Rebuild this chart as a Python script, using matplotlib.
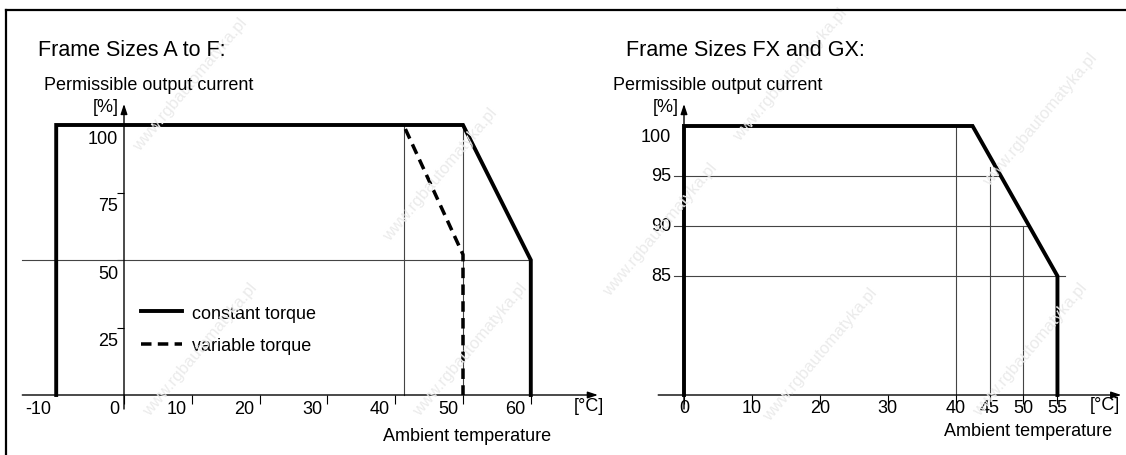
import matplotlib
matplotlib.use('Agg')
import matplotlib.pyplot as plt
from matplotlib.lines import Line2D
from matplotlib.transforms import offset_copy

plt.rcParams['font.family'] = ['Liberation Sans', 'DejaVu Sans']

W, H, DPI = 1126, 456, 100

# ---- Frame sizes A to F ----
left_title = 'Frame Sizes A to F:'
left_const_t = [-10, -10, 50, 60, 60]
left_const_p = [0, 100, 100, 50, 0]
left_var_t = [41.5, 50, 50]
left_var_p = [98.5, 52, 0]
left_vlines_t = [41.3, 50]
left_hline_p = 50
left_xticks = [0, 10, 20, 30, 40, 50, 60]
left_xlabels_pos = [-10, 0, 10, 20, 30, 40, 50, 60]
left_xlabels = ['-10', '0', '10', '20', '30', '40', '50', '60']
left_yticks = [25, 50, 75, 100]
left_ylabels = ['25', '50', '75', '100']

# ---- Frame sizes FX and GX ----
right_title = 'Frame Sizes FX and GX:'
right_base = 73.1   # level of the temperature axis
right_const_t = [0, 0, 42.5, 55, 55]
right_const_p = [right_base, 100, 100, 85, right_base]
right_vlines_t = [40, 45, 50]
right_vlines_top = [99.9, 95.9, 90]
right_hlines_p = [95, 90, 85]
right_hlines_end = [46.7, 50.8, 56.1]
right_xticks = [0, 10, 20, 30, 40, 45, 50, 55]
right_xlabels = ['0', '10', '20', '30', '40', '45', '50', '55']
right_ylabels_pos = [100, 95, 90, 85]
right_ylabels = ['100', '95', '90', '85']
right_ylabels_dy = [-10, 0, 0, 0]

THICK = 2.8
THIN = 0.8
GRAY = '#444444'
FS = 13


def place_axes(fig, xlim, ylim, x_ref, px_ref, kx, y_ref, py_ref, ky):
    # put an axes so that data (x_ref, y_ref) lands on pixel (px_ref, py_ref)
    x_left = px_ref + (xlim[0] - x_ref) * kx
    x_right = px_ref + (xlim[1] - x_ref) * kx
    y_bot = py_ref + (y_ref - ylim[0]) * ky
    y_top = py_ref - (ylim[1] - y_ref) * ky
    ax = fig.add_axes([x_left / W, 1 - y_bot / H, (x_right - x_left) / W, (y_bot - y_top) / H])
    ax.set_xlim(*xlim)
    ax.set_ylim(*ylim)
    ax.patch.set_alpha(0)
    for s in ax.spines.values():
        s.set_visible(False)
    return ax


def pix(ax, fig, dx=0, dy=0):
    return offset_copy(ax.transData, fig=fig, x=dx, y=dy, units='dots')


def arrow(ax, start, end):
    ax.annotate('', xy=end, xytext=start,
                arrowprops=dict(arrowstyle='-|>,head_length=0.6,head_width=0.2', lw=1.0, color='k',
                                shrinkA=0, shrinkB=0))


fig = plt.figure(figsize=(W / DPI, H / DPI), dpi=DPI)

# faint watermark
wm_xy = [(190, 85), (440, 175), (200, 350), (470, 350), (790, 75),
         (1040, 120), (820, 355), (1030, 350), (660, 230)]
for x, y in wm_xy:
    fig.text(x / W, 1 - y / H, 'www.rgbautomatyka.pl', rotation=50, ha='center', va='center',
             fontsize=12, color='#ebebeb', zorder=0)

# page frame
fig.add_artist(Line2D([6 / W, 1], [1 - 11 / H] * 2, color='k', lw=1.6))
fig.add_artist(Line2D([6 / W] * 2, [0, 1 - 11 / H], color='k', lw=1.6))

# ================= left chart =================
axL = place_axes(fig, (-15.5, 70.5), (-6, 110), 0, 124, 6.78, 0, 396, 2.7)
axL.spines['bottom'].set_position(('data', 0))
axL.spines['left'].set_position(('data', 0))
axL.set_xticks(left_xticks)
axL.set_yticks(left_yticks)
axL.tick_params(axis='x', direction='out', length=6.5, width=0.8, labelbottom=False)
axL.tick_params(axis='y', direction='out', length=5, width=0.8, labelleft=False)

axL.plot([-15, 60], [left_hline_p] * 2, color=GRAY, lw=THIN)
for t in left_vlines_t:
    axL.plot([t, t], [0, 100], color=GRAY, lw=THIN)
arrow(axL, (-15, 0), (69.9, 0))
arrow(axL, (0, -5.2), (0, 107.8))
lc, = axL.plot(left_const_t, left_const_p, color='k', lw=THICK, solid_joinstyle='miter',
               label='constant torque', clip_on=False)
lv, = axL.plot(left_var_t, left_var_p, color='k', lw=THICK * 0.9, dashes=(3, 1.8),
               label='variable torque', clip_on=False)
axL.legend(handles=[lc, lv], loc='upper left', bbox_to_anchor=(2.5, 33.5), bbox_transform=axL.transData,
           frameon=False, fontsize=FS, handlelength=2.3, handletextpad=0.5, labelspacing=0.85,
           borderpad=0, borderaxespad=0)

for pos, lab in zip(left_xlabels_pos, left_xlabels):
    axL.text(pos, 0, lab, transform=pix(axL, fig, -5, -5), ha='right', va='top', fontsize=FS)
for pos, lab in zip(left_yticks, left_ylabels):
    axL.text(0, pos, lab, transform=pix(axL, fig, -6, -5), ha='right', va='top', fontsize=FS)
axL.text(68.6, 0, '[°C]', transform=pix(axL, fig, 0, -2), ha='center', va='top', fontsize=FS)
axL.text(63, 0, 'Ambient temperature', transform=pix(axL, fig, 0, -41), ha='right', va='center', fontsize=FS)
axL.text(0, 107.8, '[%]', transform=pix(axL, fig, -5, -3), ha='right', va='center', fontsize=FS)
fig.text(44 / W, 1 - 85 / H, 'Permissible output current', ha='left', va='center', fontsize=FS)
fig.text(38 / W, 1 - 50 / H, left_title, ha='left', va='center', fontsize=15.5)

# ================= right chart =================
axR = place_axes(fig, (-4.5, 65), (71.5, 103), 0, 684, 6.79, 85, 277, 10)
axR.spines['bottom'].set_position(('data', right_base))
axR.spines['left'].set_position(('data', 0))
axR.set_xticks(right_xticks)
axR.set_yticks([])
axR.tick_params(axis='x', direction='out', length=6.5, width=0.8, labelbottom=False)

for p, end in zip(right_hlines_p, right_hlines_end):
    axR.plot([-1.5, end], [p, p], color=GRAY, lw=THIN)
for t, top in zip(right_vlines_t, right_vlines_top):
    axR.plot([t, t], [right_base, top], color=GRAY, lw=THIN)
arrow(axR, (-3.8, right_base), (64.4, right_base))
arrow(axR, (0, 71.7), (0, 102.2))
axR.plot(right_const_t, right_const_p, color='k', lw=THICK, solid_joinstyle='miter', clip_on=False)

for pos, lab in zip(right_xticks, right_xlabels):
    axR.text(pos, right_base, lab, transform=pix(axR, fig, 0, -4), ha='center', va='top', fontsize=FS)
for pos, lab, dy in zip(right_ylabels_pos, right_ylabels, right_ylabels_dy):
    axR.text(0, pos, lab, transform=pix(axR, fig, -13, dy), ha='right', va='center', fontsize=FS)
axR.text(62, right_base, '[°C]', transform=pix(axR, fig, 0, -1), ha='center', va='top', fontsize=FS)
axR.text(63, right_base, 'Ambient temperature', transform=pix(axR, fig, 0, -35), ha='right', va='center',
         fontsize=FS)
axR.text(0, 102.2, '[%]', transform=pix(axR, fig, -5, -3), ha='right', va='center', fontsize=FS)
fig.text(613 / W, 1 - 85 / H, 'Permissible output current', ha='left', va='center', fontsize=FS)
fig.text(626 / W, 1 - 50 / H, right_title, ha='left', va='center', fontsize=15.5)

fig.savefig('out.png', dpi=DPI)
